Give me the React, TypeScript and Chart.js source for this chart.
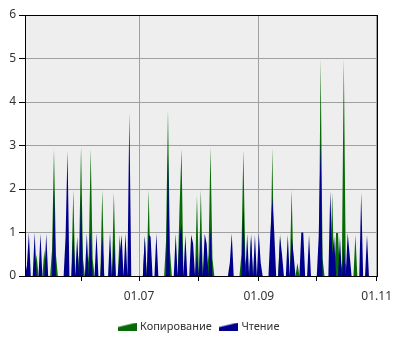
import React, { useEffect, useRef } from 'react';
import { Chart, registerables } from 'chart.js';

Chart.register(...registerables);

// Day index 0 = 03.05, last day 182 = 01.11
const DAY_COUNT = 183;
const tickDays = [29, 59, 90, 121, 151, 182];
const tickLabels = ['', '01.07', '', '01.09', '', '01.11'];

const seriesNames = ['Копирование', 'Чтение'];

// Копирование (copy) – days with activity and their values
const copyDays = [6, 10, 14, 15, 16, 25, 28, 29, 30, 33, 34, 35, 40, 46, 49, 62, 64, 73, 74, 75, 80, 81, 89, 91, 95, 96, 97, 112, 113, 114, 117, 128, 132, 138, 141, 153, 154, 159, 161, 162, 164, 165, 166, 171];
const copyValues = [0.5, 0.6, 0.6, 2.92, 0.5, 1.98, 0.5, 2.98, 0.4, 0.5, 2.92, 0.4, 1.98, 1.92, 0.95, 0.92, 1.98, 0.8, 3.82, 0.6, 1.6, 2.92, 1.85, 1.98, 0.5, 2.96, 0.4, 0.5, 2.9, 0.4, 0.9, 2.95, 0.97, 1.98, 0.3, 5.0, 0.4, 1.92, 0.99, 0.99, 0.3, 5.0, 0.3, 0.95];

// Чтение (read) – days with activity and their values
const readDays = [1, 2, 5, 8, 11, 15, 21, 22, 25, 27, 29, 32, 34, 37, 40, 44, 46, 49, 50, 52, 54, 62, 64, 65, 68, 74, 78, 80, 81, 83, 86, 87, 89, 91, 93, 94, 96, 106, 107, 113, 115, 117, 119, 121, 122, 127, 128, 129, 132, 133, 136, 138, 139, 143, 144, 147, 152, 153, 158, 159, 160, 163, 165, 167, 168, 174, 177];
const readValues = [0.25, 1.0, 1.0, 0.97, 0.97, 2.0, 0.9, 2.88, 1.0, 0.9, 1.85, 0.98, 1.0, 0.98, 0.9, 1.0, 0.8, 0.5, 0.95, 0.98, 3.75, 0.92, 0.95, 0.9, 0.98, 2.8, 0.97, 0.9, 1.2, 0.95, 0.95, 0.75, 0.5, 1.0, 0.97, 0.75, 1.1, 0.3, 0.98, 1.6, 0.97, 0.97, 0.95, 0.97, 0.3, 1.0, 1.8, 1.0, 0.9, 0.5, 0.95, 0.9, 0.5, 1.0, 1.0, 0.95, 0.9, 3.1, 1.96, 0.5, 0.9, 0.9, 0.7, 0.99, 0.5, 1.92, 0.95];

const GREEN = '#066a06';
const BLUE = '#00008c';

function daily(days: number[], values: number[]) {
  const arr: number[] = new Array(DAY_COUNT).fill(0);
  days.forEach((d, i) => {
    arr[d] = values[i];
  });
  return arr.map((y, x) => ({ x, y }));
}

function wedge(color: string) {
  const c = document.createElement('canvas');
  c.width = 19;
  c.height = 8;
  const g = c.getContext('2d')!;
  g.fillStyle = color;
  g.beginPath();
  g.moveTo(0, 8);
  g.lineTo(0, 4.5);
  g.lineTo(19, 0);
  g.lineTo(19, 8);
  g.closePath();
  g.fill();
  return c;
}

const framePlugin = {
  id: 'frame',
  beforeDraw(chart: any) {
    const { ctx, chartArea: a } = chart;
    ctx.save();
    ctx.fillStyle = '#eeeeee';
    ctx.fillRect(a.left, a.top, a.right - a.left, a.bottom - a.top);
    ctx.restore();
  },
  afterDraw(chart: any) {
    const { ctx, chartArea: a } = chart;
    ctx.save();
    ctx.strokeStyle = '#000';
    ctx.lineWidth = 1;
    ctx.strokeRect(Math.round(a.left) + 0.5, Math.round(a.top) + 0.5, Math.round(a.right - a.left), Math.round(a.bottom - a.top));
    ctx.restore();
  },
};

export default function App() {
  const ref = useRef<HTMLCanvasElement>(null);
  useEffect(() => {
    if (!ref.current) return;
    const font = { family: "'Noto Sans', sans-serif", size: 12 };
    const legendFont = { family: "'Noto Sans', sans-serif", size: 11 };
    const chart = new Chart(ref.current, {
      type: 'line',
      data: {
        datasets: [
          {
            label: seriesNames[0],
            data: daily(copyDays, copyValues),
            backgroundColor: GREEN,
            borderColor: GREEN,
            borderWidth: 0,
            fill: 'origin',
            pointRadius: 0,
            pointStyle: wedge(GREEN) as any,
            tension: 0,
            order: 2,
          },
          {
            label: seriesNames[1],
            data: daily(readDays, readValues),
            backgroundColor: BLUE,
            borderColor: BLUE,
            borderWidth: 0,
            fill: 'origin',
            pointRadius: 0,
            pointStyle: wedge(BLUE) as any,
            tension: 0,
            order: 1,
          },
        ],
      },
      options: {
        responsive: false,
        animation: false,
        layout: { padding: { left: 0, right: 0, top: 15, bottom: 8 } },
        plugins: {
          tooltip: { enabled: false },
          legend: {
            position: 'bottom',
            labels: {
              usePointStyle: true,
              pointStyleWidth: 14,
              font: legendFont,
              color: '#333',
              padding: 10,
              sort: (a: any, b: any) => a.datasetIndex - b.datasetIndex,
            },
          },
        },
        scales: {
          x: {
            type: 'linear',
            min: 0,
            max: DAY_COUNT - 1,
            afterBuildTicks: (s: any) => {
              s.ticks = tickDays.map((v) => ({ value: v }));
            },
            afterFit: (s: any) => {
              s.height = 35;
            },
            ticks: {
              autoSkip: false,
              maxRotation: 0,
              color: '#333',
              font,
              padding: 8,
              callback: (v: any) => {
                const i = tickDays.indexOf(Number(v));
                return i >= 0 ? tickLabels[i] : '';
              },
            },
            grid: {
              color: (ctx: any) => {
                const i = tickDays.indexOf(ctx.tick ? ctx.tick.value : -1);
                return i >= 0 && tickLabels[i] ? '#a0a0a0' : 'rgba(0,0,0,0)';
              },
              tickColor: '#000',
              tickLength: 5,
            },
            border: { color: '#000' },
          },
          y: {
            min: 0,
            max: 6,
            afterFit: (s: any) => {
              s.width = 25;
            },
            ticks: { stepSize: 1, color: '#333', font, padding: 3 },
            grid: { color: '#a0a0a0', tickColor: '#000', tickLength: 6 },
            border: { color: '#000' },
          },
          yRight: {
            position: 'right',
            min: 0,
            max: 6,
            afterFit: (s: any) => {
              s.width = 22;
            },
            ticks: { display: false },
            grid: { display: false },
            border: { display: false },
          },
        },
      },
      plugins: [framePlugin],
    });
    return () => chart.destroy();
  }, []);
  return (
    <div style={{ position: 'fixed', left: 0, top: 0, width: 400, height: 350, background: '#fff' }}>
      <canvas ref={ref} width={400} height={350} />
    </div>
  );
}
